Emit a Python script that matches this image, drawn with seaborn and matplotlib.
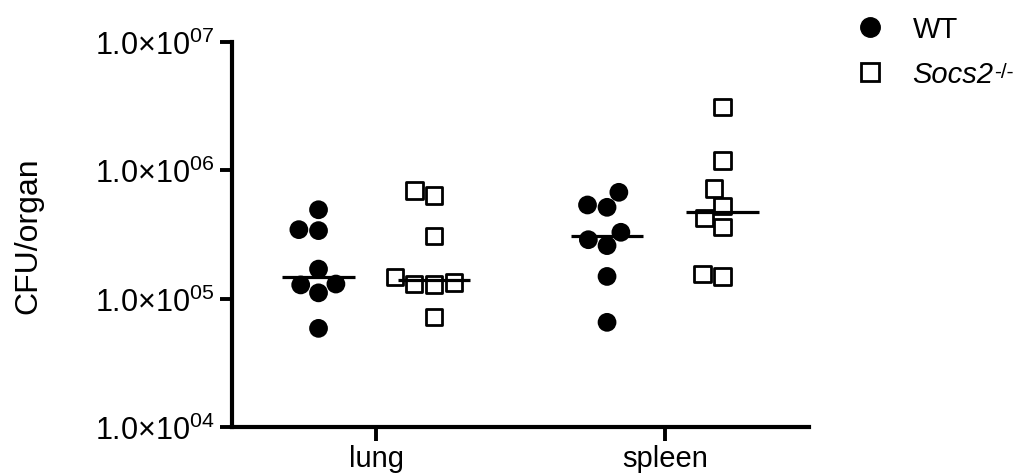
import pandas as pd
import matplotlib
matplotlib.use('Agg')
import matplotlib.pyplot as plt
import seaborn as sns
from matplotlib.lines import Line2D
from matplotlib.ticker import NullLocator

# values (CFU per organ)
organs = ['lung', 'spleen']
genotypes = ['WT', 'Socs2']
wt_lung = [4.93e5, 3.39e5, 3.45e5, 1.70e5, 1.28e5, 1.30e5, 1.11e5, 5.87e4]
ko_lung = [6.94e5, 6.35e5, 3.09e5, 1.47e5, 1.34e5, 1.30e5, 1.29e5, 7.16e4]
wt_spleen = [6.74e5, 5.37e5, 5.15e5, 3.29e5, 2.88e5, 2.59e5, 1.49e5, 6.54e4]
ko_spleen = [3.10e6, 1.19e6, 7.24e5, 5.30e5, 4.23e5, 3.60e5, 1.56e5, 1.49e5]
y_ticks = [1e4, 1e5, 1e6, 1e7]
y_ticklabels = ['1.0×10$^{04}$', '1.0×10$^{05}$', '1.0×10$^{06}$', '1.0×10$^{07}$']

rows = []
for organ, geno, vals in [('lung', 'WT', wt_lung), ('lung', 'Socs2', ko_lung),
                          ('spleen', 'WT', wt_spleen), ('spleen', 'Socs2', ko_spleen)]:
    for v in vals:
        rows.append([organ, geno, v])
df = pd.DataFrame(rows, columns=['organ', 'genotype', 'cfu'])

sns.set_style('ticks')
plt.rcParams['font.family'] = ['Liberation Sans', 'DejaVu Sans']
plt.rcParams['mathtext.fontset'] = 'custom'
plt.rcParams['mathtext.rm'] = 'Liberation Sans'
plt.rcParams['mathtext.it'] = 'Liberation Sans:italic'
plt.rcParams['text.color'] = 'black'
plt.rcParams['axes.labelcolor'] = 'black'

fs = 21
fig = plt.figure(figsize=(10.26, 4.77), dpi=100)
ax = fig.add_axes([0.2261, 0.1027, 0.5624, 0.8072])

pal = {'WT': 'black', 'Socs2': 'white'}

# WT: filled circles
sns.swarmplot(data=df[df.genotype == 'WT'], x='organ', y='cfu', hue='genotype',
              order=organs, hue_order=genotypes, dodge=True, palette=pal,
              marker='o', size=13.5, linewidth=0, legend=False,
              log_scale=True, ax=ax, zorder=3)
# Socs2-/-: open squares
sns.swarmplot(data=df[df.genotype == 'Socs2'], x='organ', y='cfu', hue='genotype',
              order=organs, hue_order=genotypes, dodge=True, palette=pal,
              marker='s', size=11.8, edgecolor='black', linewidth=2.0, legend=False,
              log_scale=True, ax=ax, zorder=3)
ax.collections[-1].set_facecolor('none')

# median lines
sns.boxplot(data=df, x='organ', y='cfu', hue='genotype', order=organs,
            hue_order=genotypes, dodge=True, gap=0.375, log_scale=True,
            showbox=False, showcaps=False, showfliers=False,
            whiskerprops={'visible': False},
            medianprops={'color': 'black', 'linewidth': 2.3},
            legend=False, ax=ax, zorder=4)

ax.set_yscale('log')
ax.set_ylim(1e4, 1e7)
ax.set_yticks(y_ticks, labels=y_ticklabels)
ax.yaxis.set_minor_locator(NullLocator())
ax.set_xlim(-0.5, 1.5)
ax.set_xlabel('')
ax.set_ylabel('CFU/organ', fontsize=23, labelpad=37)

sns.despine(ax=ax)
for side in ['left', 'bottom']:
    ax.spines[side].set_linewidth(3)
    ax.spines[side].set_color('black')
ax.tick_params(axis='both', width=2.8, length=8.5, pad=4,
               color='black', labelcolor='black')
ax.tick_params(axis='y', labelsize=22)
ax.tick_params(axis='x', length=10, pad=2, labelsize=fs)

handles = [
    Line2D([], [], linestyle='none', marker='o', markersize=14, color='black'),
    Line2D([], [], linestyle='none', marker='s', markersize=12.5,
           markerfacecolor='none', markeredgecolor='black', markeredgewidth=2.0),
]
leg = ax.legend(handles, ['WT', 'Socs2'], loc='upper left',
                bbox_to_anchor=(0.834, 0.966), bbox_transform=fig.transFigure,
                frameon=False, fontsize=fs, borderaxespad=0, borderpad=0,
                handlelength=1.0, handletextpad=0.95, labelspacing=0.58)
ko_text = leg.get_texts()[1]
ko_text.set_fontstyle('italic')

# superscript "-/-" after the italic Socs2 label
fig.canvas.draw()
bb = ko_text.get_window_extent().transformed(fig.transFigure.inverted())
fig.text(bb.x1 + 0.0005, bb.y1 - 0.003, '-/-', fontsize=15,
         ha='left', va='top')

fig.savefig('out.png', dpi=100)
